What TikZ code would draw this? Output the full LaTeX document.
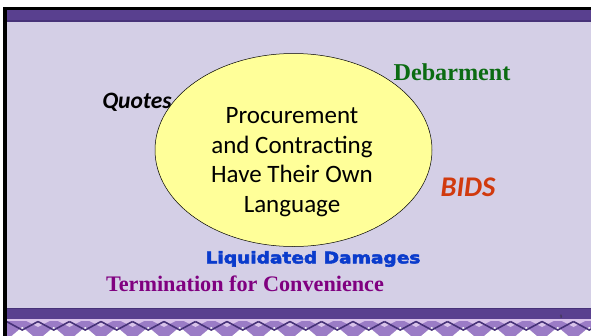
\documentclass[tikz,border=0pt]{standalone}
\usepackage{fontspec}
\setmainfont{Liberation Serif}
\newfontfamily\carlito{Carlito}
\newfontfamily\dejavuheavy[FakeBold=3]{DejaVu Sans Bold}
\usetikzlibrary{shapes.geometric}
\definecolor{bandpurple}{HTML}{59408F}
\definecolor{bandedge}{HTML}{463278}
\definecolor{lav}{HTML}{D4CFE6}
\definecolor{zzmid}{HTML}{9B7CC6}
\definecolor{zzlight}{HTML}{D9C3EA}
\definecolor{ellfill}{HTML}{FFFF99}
\definecolor{debgreen}{HTML}{0B6B12}
\definecolor{bidsred}{HTML}{D13A0E}
\definecolor{ldblue}{HTML}{0A3BCC}
\definecolor{tfcpurple}{HTML}{800080}
\tikzset{
  term/.style={inner sep=0pt, anchor=center},
}
\begin{document}
\begin{tikzpicture}[x=1pt,y=-1pt]
\useasboundingbox (0,0) rectangle (591,335);
% page background
\fill[white] (-2,-2) rectangle (593,337);
% slide background
\fill[lav] (3,7) rectangle (593,337);
% black frame
\fill[black] (3,7) rectangle (593,9.5);
\fill[black] (3,7) rectangle (6.5,337);
% top band
\fill[bandpurple] (6.5,9.5) rectangle (593,21);
\fill[bandedge] (6.5,20) rectangle (593,21.5);
% bottom band
\fill[bandpurple] (6.5,308) rectangle (593,319);
\fill[bandedge] (6.5,308) rectangle (593,309);
\fill[zzlight] (6.5,319) rectangle (593,321);
% zigzag strip
\fill[zzmid] (6.5,321) rectangle (593,337);
\foreach \i in {0,...,19} {
  \pgfmathsetmacro{\xa}{6.5+31.5*\i}
  % white up triangles
  \fill[white] (\xa+4,337) -- (\xa+15.75,327) -- (\xa+27.5,337) -- cycle;
  % light down triangles
  \fill[zzlight] (\xa+20,321) -- (\xa+31.5,327) -- (\xa+43,321) -- cycle;
  % dark zigzag line
  \draw[bandedge, line width=1.6pt] (\xa,321.5) -- (\xa+15.75,330) -- (\xa+31.5,321.5);
}
\fill[black] (3,321) rectangle (6.5,337);
% ellipse
\node[ellipse, draw=black, line width=0.5pt, fill=ellfill,
      minimum width=277pt, minimum height=193pt, inner sep=0pt] (core) at (293.5,150) {};
\node[term, align=center, font=\carlito\fontsize{25}{29.5}\selectfont] (coretext) at (292,162)
  {Procurement\\and Contracting\\Have Their Own\\Language};
% terms
\node[term, font=\carlito\bfseries\itshape\fontsize{23.5}{25}\selectfont] (quotes) at (137,102) {Quotes};
\node[term, text=debgreen, font=\bfseries\fontsize{24.2}{26}\selectfont] (debar) at (452,72) {Debarment};
\node[term, text=bidsred, font=\carlito\bfseries\itshape\fontsize{28.5}{30}\selectfont] (bids) at (468,187) {BIDS};
\node[term, text=ldblue, font=\dejavuheavy\fontsize{16}{18}\selectfont] (ld) at (313,259) {\scalebox{1.16}[1]{Liquidated Damages}};
\node[term, text=tfcpurple, font=\bfseries\fontsize{22.2}{24}\selectfont] (tfc) at (245,284) {Termination for Convenience};
\node[term, text=black!80, font=\fontsize{5}{6}\selectfont] (pnum) at (561,317) {9};
\end{tikzpicture}
\end{document}
